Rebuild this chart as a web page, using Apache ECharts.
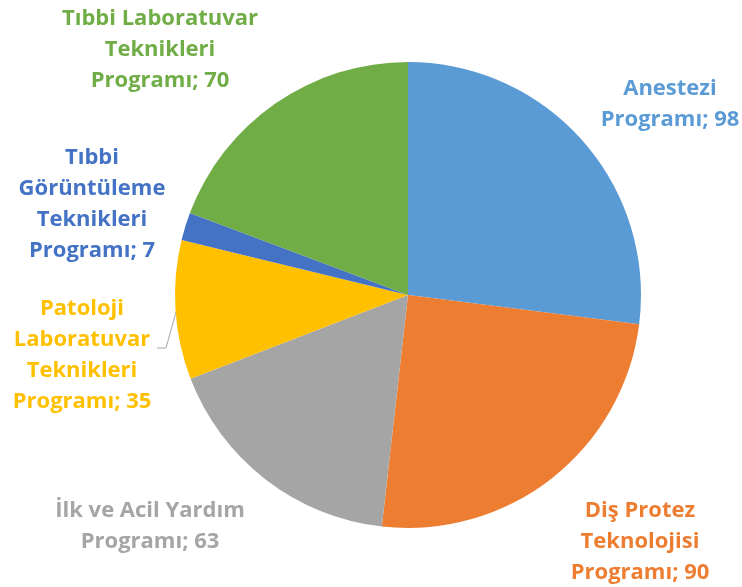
<!DOCTYPE html>
<html>
<head>
<meta charset="utf-8">
<script src="https://cdn.jsdelivr.net/npm/echarts@6/dist/echarts.min.js"></script>
<style>
html, body { margin: 0; padding: 0; background: #fff; }
#chart { width: 742px; height: 587px; }
</style>
</head>
<body>
<div id="chart"></div>
<script>
var names = [
    'Anestezi\nProgramı',
    'Diş Protez\nTeknolojisi\nProgramı',
    'İlk ve Acil Yardım\nProgramı',
    'Patoloji\nLaboratuvar\nTeknikleri\nProgramı',
    'Tıbbi\nGörüntüleme\nTeknikleri\nProgramı',
    'Tıbbi Laboratuvar\nTeknikleri\nProgramı'
];
var values = [98, 90, 63, 35, 7, 70];
var colors = ['#5B9BD5', '#ED7D31', '#A5A5A5', '#FFC000', '#4472C4', '#70AD47'];

// where each label block sits (centre of text)
var labelPos = [[670, 104], [640, 542], [150, 526], [82, 355], [92, 204], [160, 50]];

var chart = echarts.init(document.getElementById('chart'));

var data = names.map(function (n, i) {
    return {
        name: n,
        value: values[i],
        itemStyle: { color: colors[i] },
        label: { color: colors[i] },
        labelLine: { show: i === 3 }
    };
});

var option = {
    animation: false,
    series: [{
        type: 'pie',
        center: [408, 295],
        radius: 233,
        startAngle: 90,
        clockwise: true,
        data: data,
        label: {
            show: true,
            position: 'outside',
            formatter: '{b}; {c}',
            fontFamily: 'Open Sans',
            fontWeight: 'bold',
            fontSize: 22,
            lineHeight: 31,
            align: 'center',
            overflow: 'none'
        },
        labelLine: {
            length: 8,
            length2: 8,
            lineStyle: { color: '#A6A6A6', width: 1 }
        },
        labelLayout: function (params) {
            var p = labelPos[params.dataIndex];
            var out = {
                x: p[0],
                y: p[1],
                align: 'center',
                verticalAlign: 'middle'
            };
            // Patoloji has a small elbow leader line
            if (params.dataIndex === 3) {
                out.labelLinePoints = [[176, 312], [166, 348], [157, 348]];
            }
            return out;
        }
    }]
};
chart.setOption(option);
</script>
</body>
</html>
